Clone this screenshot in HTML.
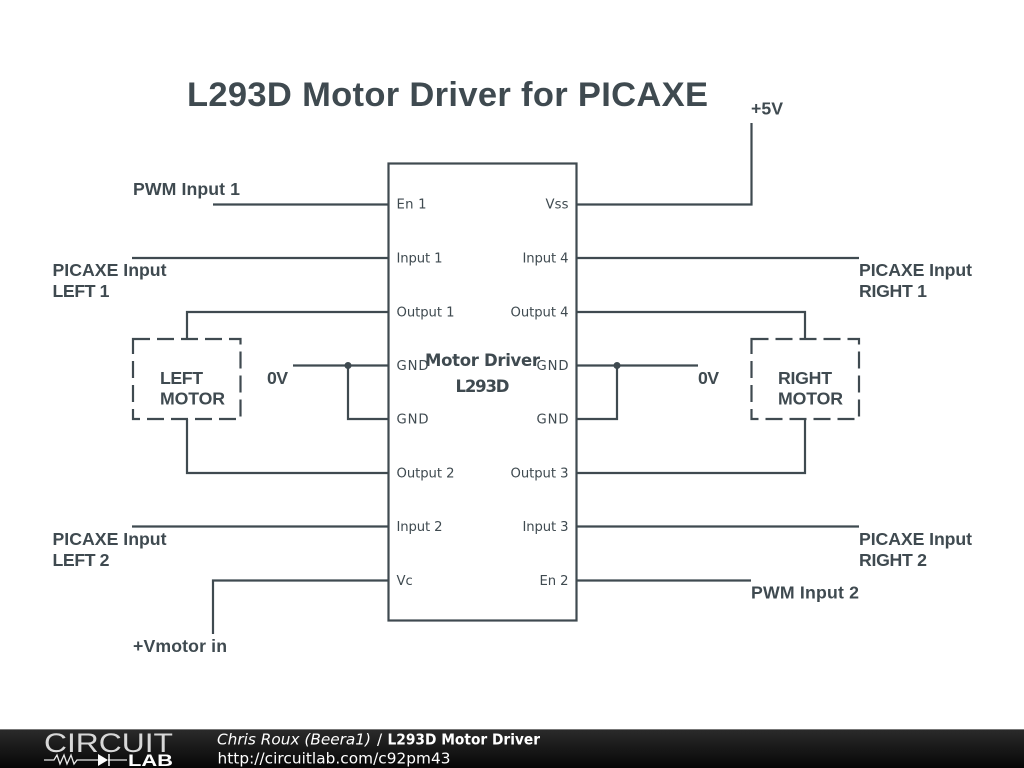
<!DOCTYPE html>
<html>
<head>
<meta charset="utf-8">
<style>
html,body{margin:0;padding:0;background:#fff;}
svg{display:block;}
.b{font-family:"Liberation Sans",sans-serif;font-weight:bold;font-size:17.7px;fill:#3f4a50;}
.p{font-family:"DejaVu Sans",sans-serif;font-size:13.2px;fill:#3f4a50;}
.f{font-family:"DejaVu Sans",sans-serif;font-size:15.3px;fill:#fff;}
.m{font-family:"DejaVu Sans",sans-serif;font-weight:bold;font-size:16.5px;fill:#3f4a50;}
</style>
</head>
<body>
<svg width="1024" height="768" viewBox="0 0 1024 768" xmlns="http://www.w3.org/2000/svg">
<defs>
<linearGradient id="g" x1="0" y1="0" x2="0" y2="1">
<stop offset="0" stop-color="#2b2b2b"/>
<stop offset="1" stop-color="#060606"/>
</linearGradient>
</defs>
<rect width="1024" height="768" fill="#fff"/>

<text x="187" y="106" font-family="Liberation Sans" font-weight="bold" font-size="34.5px" fill="#3f4a50" textLength="521">L293D Motor Driver for PICAXE</text>

<g fill="none" stroke="#3f4a50" stroke-width="2.2">
<rect x="388.5" y="163.5" width="188" height="457"/>
<path d="M213 204.5H388M132 258H388M187 339V312H388M187 419V473H388M293 365.5H388M348 365.5V419H388M132 526.5H388M213 634V580.5H388"/>
<path d="M577 204.5H751.500V123M577 258H859M805 339V312H577M805 419V473H577M698 365.500H577M617 365.5V419H577M577 526.5H859M577 580.500H751"/>
<rect x="133" y="339" width="107.500" height="80" stroke-dasharray="17 7"/>
<rect x="751.500" y="339" width="107.500" height="80" stroke-dasharray="17 7"/>
</g>
<circle cx="348" cy="365.500" r="3.500" fill="#3f4a50"/>
<circle cx="617" cy="365.500" r="3.500" fill="#3f4a50"/>

<g class="p">
<text x="396.500" y="208.500" textLength="30">En 1</text>
<text x="396.500" y="262.500" textLength="46">Input 1</text>
<text x="396.500" y="316.500" textLength="58">Output 1</text>
<text x="396.500" y="370" textLength="32">GND</text>
<text x="396.500" y="423.500" textLength="32">GND</text>
<text x="396.500" y="477.500" textLength="58">Output 2</text>
<text x="396.500" y="531" textLength="46">Input 2</text>
<text x="396.500" y="585">Vc</text>
<text x="545.500" y="208.500" textLength="23">Vss</text>
<text x="522.500" y="262.500" textLength="46">Input 4</text>
<text x="510.500" y="316.500" textLength="58">Output 4</text>
<text x="536.500" y="370" textLength="32">GND</text>
<text x="536.500" y="423.500" textLength="32">GND</text>
<text x="510.500" y="477.500" textLength="58">Output 3</text>
<text x="522.500" y="531" textLength="46">Input 3</text>
<text x="539.500" y="585" textLength="29">En 2</text>
</g>

<text class="m" x="425" y="366" textLength="115">Motor Driver</text>
<text class="m" x="455.500" y="392" textLength="54">L293D</text>

<g class="b">
<text x="751" y="114.500" textLength="32">+5V</text>
<text x="133" y="195" textLength="107">PWM Input 1</text>
<text x="52.500" y="276" textLength="114">PICAXE Input</text>
<text x="52.500" y="297" textLength="57">LEFT 1</text>
<text x="859" y="276" textLength="113">PICAXE Input</text>
<text x="859" y="297" textLength="68">RIGHT 1</text>
<text x="160" y="384" textLength="43">LEFT</text>
<text x="160" y="404.500" textLength="65">MOTOR</text>
<text x="778" y="384" textLength="54">RIGHT</text>
<text x="778" y="404.500" textLength="65">MOTOR</text>
<text x="267" y="384" textLength="21">0V</text>
<text x="698" y="384" textLength="21">0V</text>
<text x="52.500" y="545" textLength="114">PICAXE Input</text>
<text x="52.500" y="566" textLength="57">LEFT 2</text>
<text x="859" y="545" textLength="113">PICAXE Input</text>
<text x="859" y="566" textLength="68">RIGHT 2</text>
<text x="751" y="598.500" textLength="108">PWM Input 2</text>
<text x="133" y="652" textLength="94">+Vmotor in</text>
</g>

<rect x="0" y="729" width="1024" height="39" fill="url(#g)"/>
<rect x="0" y="729" width="1024" height="1" fill="#777"/>
<text x="44" y="752" font-family="Liberation Sans" font-size="27px" fill="#d8d8d8" textLength="129" lengthAdjust="spacingAndGlyphs">CIRCUIT</text>
<path d="M44 760H54L57 755L60 764L64 755L67 764L71 755L74 764L77 760H98M108 760H127" fill="none" stroke="#e8e8e8" stroke-width="1.300"/>
<path d="M98 754V766L108 760Z" fill="#fff"/>
<path d="M109 754V766" stroke="#fff" stroke-width="1.500"/>
<text x="128" y="766" font-family="Liberation Sans" font-weight="bold" font-size="16.500px" fill="#fff" textLength="45" lengthAdjust="spacingAndGlyphs">LAB</text>

<text class="f" x="217" y="744.500" font-style="italic" textLength="154">Chris Roux (Beera1)</text>
<text class="f" x="377" y="744.500">/</text>
<text class="f" x="387.500" y="744.500" font-weight="bold" font-size="14.500px" textLength="152.500" lengthAdjust="spacingAndGlyphs">L293D Motor Driver</text>
<text class="f" x="217.500" y="763.500" textLength="233">http://circuitlab.com/c92pm43</text>
</svg>
</body>
</html>
